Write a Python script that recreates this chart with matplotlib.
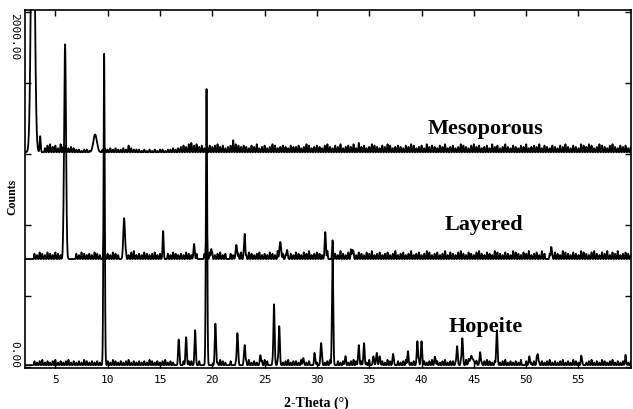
import numpy as np
import matplotlib.pyplot as plt

plt.rcParams['font.family'] = 'DejaVu Sans Mono'

# 2-theta grid of the scan
two_theta = np.linspace(2.1, 60.0, 8000)

# main reflections (counts above each pattern's baseline)
meso_pos = [2.85, 3.55, 8.8]
meso_int = [1900, 90, 100]
meso_wid = [0.16, 0.05, 0.17]
meso_base = 1210

lay_pos = [5.93, 9.66, 11.57, 15.3, 18.26, 19.45, 19.9, 22.3, 23.1, 26.5, 27.15,
           30.8, 31.5, 33.4, 52.4]
lay_int = [1210, 150, 230, 158, 85, 200, 56, 79, 141, 96, 51, 152, 68, 51, 68]
lay_wid = [0.09, 0.06, 0.08, 0.05, 0.06, 0.05, 0.05, 0.07, 0.05, 0.08, 0.06,
           0.06, 0.05, 0.06, 0.05]
lay_base = 608

hop_pos = [9.66, 16.8, 17.5, 18.36, 19.45, 20.3, 22.4, 23.1, 24.6, 25.9, 26.4,
           28.7, 29.8, 30.4, 31.5, 32.7, 34.0, 34.5, 35.4, 35.7, 36.0, 37.3,
           38.7, 39.6, 40.0, 41.3, 43.4, 43.9, 44.8, 45.6, 47.2, 50.3, 51.1,
           55.3, 59.5]
hop_int = [1757, 135, 158, 197, 1548, 225, 180, 113, 56, 343, 220,
           40, 50, 124, 602, 28, 113, 124, 50, 56, 50, 56,
           79, 135, 135, 40, 107, 152, 40, 73, 197, 50, 62,
           40, 28]
hop_wid = [0.06] * 28 + [0.2] + [0.06] * 6
hop_base = 10

# baseline jitter, one value per quarter degree from 3.0 to 60.0 (units of ~7 counts)
noise_pos = np.arange(3.0, 60.001, 0.25)
meso_noise = [0, 0, 0, 0, 3, 5, 6, 4, 5, 3, 6, 4, 5, 3, 4, 3, 2, 2, 1, 2,
              2, 1, 0, 0, 0, 0, 2, 3, 2, 3, 2, 3, 2, 2, 3, 2, 5, 3, 2, 2,
              2, 1, 2, 1, 2, 1, 2, 1, 2, 2, 1, 2, 2, 3, 2, 3, 4, 5, 4, 6,
              7, 5, 6, 4, 5, 3, 4, 5, 4, 5, 6, 4, 5, 3, 4, 5, 9, 6, 5, 4,
              5, 4, 3, 5, 4, 6, 3, 4, 5, 3, 4, 6, 5, 3, 4, 5, 4, 3, 5, 4,
              4, 5, 3, 4, 6, 5, 3, 4, 5, 4, 3, 5, 6, 4, 3, 5, 4, 6, 3, 4,
              5, 4, 6, 3, 7, 4, 5, 3, 4, 6, 5, 4, 3, 5, 4, 6, 5, 3, 4, 5,
              4, 3, 5, 4, 6, 5, 3, 4, 5, 3, 6, 4, 5, 4, 3, 5, 4, 6, 3, 4,
              5, 3, 4, 6, 5, 4, 3, 5, 6, 4, 5, 3, 4, 5, 3, 6, 4, 5, 3, 4,
              6, 4, 3, 5, 4, 3, 5, 4, 6, 3, 4, 5, 4, 6, 3, 5, 4, 3, 5, 4,
              3, 5, 4, 6, 4, 3, 5, 4, 3, 6, 5, 4, 6, 5, 3, 4, 6, 5, 4, 3,
              5, 6, 4, 3, 5, 4, 5, 3, 4]
lay_noise = [4, 3, 5, 4, 3, 5, 4, 3, 5, 4, 3, 4, 0, 0, 0, 0, 4, 3, 5, 4,
             3, 4, 3, 5, 4, 3, 0, 0, 4, 3, 5, 4, 3, 0, 0, 4, 3, 5, 6, 3,
             4, 3, 5, 4, 3, 4, 5, 3, 4, 0, 0, 4, 3, 5, 4, 3, 4, 3, 5, 4,
             3, 0, 4, 0, 0, 4, 3, 5, 4, 3, 4, 5, 3, 4, 0, 4, 3, 0, 4, 5,
             4, 3, 5, 4, 3, 4, 5, 3, 4, 3, 5, 4, 3, 6, 0, 4, 3, 0, 4, 3,
             5, 4, 3, 5, 4, 6, 3, 4, 5, 4, 3, 0, 6, 0, 5, 4, 3, 6, 4, 3,
             5, 7, 4, 3, 5, 4, 3, 5, 4, 6, 3, 4, 5, 3, 4, 5, 3, 4, 6, 3,
             4, 5, 3, 4, 6, 3, 4, 5, 3, 4, 6, 5, 3, 4, 5, 3, 4, 6, 3, 5,
             4, 3, 5, 6, 4, 3, 5, 4, 3, 5, 6, 4, 3, 5, 4, 3, 6, 5, 4, 3,
             5, 4, 3, 6, 5, 4, 3, 5, 4, 6, 3, 4, 5, 3, 6, 4, 0, 4, 3, 5,
             4, 3, 6, 5, 4, 3, 5, 4, 3, 6, 5, 4, 3, 5, 6, 4, 3, 5, 4, 6,
             3, 5, 4, 6, 3, 4, 5, 4, 3]
hop_noise = [3, 2, 3, 4, 2, 3, 2, 3, 4, 2, 3, 2, 3, 4, 2, 3, 2, 3, 2, 4,
             3, 2, 3, 2, 3, 2, 0, 0, 3, 2, 4, 3, 2, 3, 2, 3, 4, 2, 3, 2,
             3, 2, 3, 2, 4, 3, 2, 3, 2, 3, 4, 2, 3, 2, 0, 3, 0, 3, 0, 3,
             3, 0, 0, 3, 0, 0, 3, 0, 0, 3, 2, 4, 3, 2, 0, 3, 0, 2, 3, 0,
             2, 3, 4, 2, 3, 2, 0, 3, 4, 3, 0, 2, 0, 3, 0, 2, 3, 4, 2, 3,
             3, 2, 4, 0, 2, 3, 0, 4, 2, 0, 3, 2, 3, 4, 0, 0, 3, 2, 3, 4,
             2, 3, 4, 3, 0, 3, 0, 2, 4, 0, 0, 3, 0, 3, 2, 4, 3, 2, 0, 3,
             2, 3, 4, 0, 2, 3, 0, 4, 0, 3, 2, 3, 4, 2, 3, 2, 3, 4, 2, 3,
             3, 2, 0, 3, 0, 4, 3, 2, 0, 3, 0, 2, 3, 4, 3, 2, 3, 0, 2, 3,
             4, 2, 3, 2, 3, 2, 4, 0, 3, 0, 2, 3, 4, 2, 3, 2, 3, 4, 2, 3,
             2, 3, 4, 2, 3, 2, 4, 3, 2, 3, 0, 2, 3, 4, 2, 3, 2, 4, 3, 2,
             3, 4, 2, 3, 2, 3, 4, 2, 3]
noise_unit = 7.5


def pattern(base, pos, inten, wid, noise):
    y = np.full_like(two_theta, float(base))
    for c, h, w in zip(pos, inten, wid):
        y += h * np.exp(-0.5 * ((two_theta - c) / w) ** 2)
    for c, h in zip(noise_pos, noise):
        y += h * noise_unit * np.exp(-0.5 * ((two_theta - c) / 0.035) ** 2)
    return y


fig = plt.figure(figsize=(6.33, 4.10), dpi=100)
ax = fig.add_axes([0.0395, 0.1, 0.957, 0.873])

for base, pos, inten, wid, noise in [
        (meso_base, meso_pos, meso_int, meso_wid, meso_noise),
        (lay_base, lay_pos, lay_int, lay_wid, lay_noise),
        (hop_base, hop_pos, hop_int, hop_wid, hop_noise)]:
    ax.plot(two_theta, pattern(base, pos, inten, wid, noise), color='black', lw=1.3)

ax.set_xlim(2.1, 60.0)
ax.set_ylim(-6, 2011)
ax.set_xticks(range(5, 60, 5))
ax.set_yticks([0, 400, 800, 1200, 1600, 2000])
ax.set_yticklabels(['0.00', '', '', '', '', '2000.00'])
ax.tick_params(direction='in', top=True, right=True, length=4, width=1,
               labelsize=8, pad=4)
ylabs = ax.get_yticklabels()
for lab in ylabs:
    lab.set_rotation(-90)
    lab.set_ha('center')
ylabs[0].set_va('bottom')
ylabs[-1].set_va('top')
ax.tick_params(axis='y', pad=8)
for sp in ax.spines.values():
    sp.set_linewidth(1.2)

lbl = dict(family='Liberation Serif', fontweight='bold', fontsize=16,
           ha='center', va='baseline')
ax.text(46.1, 1320, 'Mesoporous', **lbl)
ax.text(46.0, 780, 'Layered', **lbl)
ax.text(46.1, 203, 'Hopeite', **lbl)

fig.text(12 / 633, 1 - 197 / 410, 'Counts', rotation=90, ha='center',
         va='center', family='Liberation Serif', fontweight='bold', fontsize=8.5)
fig.text(316 / 633, 1 - 403 / 410, '2-Theta (°)', ha='center', va='center',
         family='Liberation Serif', fontweight='bold', fontsize=10)

fig.savefig('out.png', dpi=100)
